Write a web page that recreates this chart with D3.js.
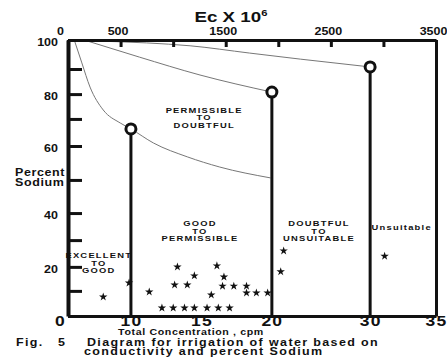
<!DOCTYPE html>
<html>
<head>
<meta charset="utf-8">
<script src="https://cdn.jsdelivr.net/npm/d3@7"></script>
<style>
  body { margin: 0; background: #fff; }
  svg { display: block; font-family: "Liberation Sans", Arial, sans-serif; font-weight: bold; }
  text { transform-box: fill-box; transform-origin: center; transform: scaleX(1.25); fill: #111; }
  .yax text { transform-origin: right center; }
  text.side, text.caption { transform-origin: left center; }
</style>
</head>
<body>
<script>
const W = 447, H = 357;
const margin = { top: 40, right: 11, bottom: 41, left: 68 };
const width = W - margin.left - margin.right;
const height = H - margin.top - margin.bottom;

// hand drawn axes: uneven spacing, so both are piecewise
const concDomain = [0, 10, 20, 30, 35];
const concStops = [0, 0.171, 0.554, 0.821, 1];
const sodiumDomain = [0, 10, 20, 30, 40, 50, 60, 70, 80, 90, 100];
const sodiumStops = [0, 0.091, 0.178, 0.275, 0.373, 0.493, 0.616, 0.714, 0.804, 0.895, 1];

const concTicks = [0, 10, 15, 20, 30, 35];
const sodiumTicks = [0, 10, 20, 30, 40, 50, 60, 70, 80, 90, 100];
const sodiumLabels = [20, 40, 60, 80, 100];
const ecTicks = [0, 500, 1000, 1500, 2000, 2500, 3000, 3500];
const ecLabels = [0, 500, 1500, 2500, 3500];

// class boundaries [conc, % sodium]
const limits = [[10, 66.3], [20, 80.8], [30, 90.7]];
const curveLow = [[1.1, 99.3], [2.2, 92.1], [3.5, 82.8], [5.6, 73.6], [8.3, 68.5], [10, 66.3],
  [11.6, 61.1], [14.0, 56.8], [16.3, 53.8], [19.9, 50.6]];
const curveMid = [[3.0, 99.7], [10.6, 94.1], [14.9, 87.6], [20, 80.8]];
const curveHigh = [[3.0, 99.7], [11.1, 99.0], [14.2, 98.0], [18.4, 95.5], [22.9, 93.4], [30, 90.7]];

// water samples [conc, % sodium]
const samples = [
  [5.6, 7.6], [9.7, 13.3], [11.3, 9.6], [13.3, 20], [13.1, 12.5], [14.0, 12.5],
  [14.5, 16.3], [16.1, 20.4], [16.6, 15.8], [16.5, 12], [17.3, 12], [18.2, 12],
  [15.7, 8.4], [18.2, 9.2], [18.9, 9.2], [19.7, 9.2],
  [12.2, 3.2], [13.0, 3.2], [13.8, 3.2], [14.5, 3.2], [15.4, 3.2], [16.2, 3.2], [17.0, 3.2],
  [21.2, 26], [20.9, 18], [31.1, 24]
];

const zoneNames = [
  ["PERMISSIBLE", "TO", "DOUBTFUL"],
  ["GOOD", "TO", "PERMISSIBLE"],
  ["DOUBTFUL", "TO", "UNSUITABLE"],
  ["EXCELLENT", "TO", "GOOD"],
  ["Unsuitable"]
];
// where each name sits, in chart units [conc, % sodium]
const zoneAt = [[15.2, 73.6], [14.9, 36.3], [24.8, 36.3], [4.9, 24.4], [32.4, 34.8]];

const x = d3.scaleLinear().domain(concDomain).range(concStops.map((f) => f * width));
const y = d3.scaleLinear().domain(sodiumDomain).range(sodiumStops.map((f) => height * (1 - f)));
const ec = d3.scaleLinear().domain([0, 3500]).range([0, width]);

const svg = d3.select("body").append("svg").attr("width", W).attr("height", H);
const g = svg.append("g").attr("transform", `translate(${margin.left},${margin.top})`);

// curves
const line = d3.line().x((d) => x(d[0])).y((d) => y(d[1])).curve(d3.curveMonotoneX);
g.selectAll("path.curve")
  .data([curveLow, curveMid, curveHigh])
  .join("path")
  .attr("class", "curve")
  .attr("d", line)
  .attr("fill", "none")
  .attr("stroke", "#777")
  .attr("stroke-width", 1);

// vertical class limits
g.selectAll("line.limit")
  .data(limits)
  .join("line")
  .attr("class", "limit")
  .attr("x1", (d) => x(d[0])).attr("x2", (d) => x(d[0]))
  .attr("y1", y(0)).attr("y2", (d) => y(d[1]))
  .attr("stroke", "#111")
  .attr("stroke-width", 3);
g.selectAll("circle.knot")
  .data(limits)
  .join("circle")
  .attr("class", "knot")
  .attr("cx", (d) => x(d[0]))
  .attr("cy", (d) => y(d[1]))
  .attr("r", 5)
  .attr("fill", "#fff")
  .attr("stroke", "#111")
  .attr("stroke-width", 3);

// axes
const leftAxis = d3.axisLeft(y).tickValues(sodiumTicks).tickSizeInner(-14).tickSizeOuter(0)
  .tickPadding(12).tickFormat((d) => (sodiumLabels.includes(d) ? d : ""));
const ly = g.append("g").attr("class", "yax").call(leftAxis);
ly.select(".domain").attr("stroke-width", 4).attr("stroke", "#111");
ly.selectAll(".tick line").attr("stroke-width", 3).attr("stroke", "#111");
ly.selectAll(".tick text").attr("font-size", 10).attr("dy", "0.55em").attr("x", -10);
ly.selectAll(".tick text").filter((d) => !sodiumLabels.includes(d)).remove();

const topAxis = d3.axisTop(ec).tickValues(ecTicks).tickSizeInner(-7).tickSizeOuter(0)
  .tickPadding(12).tickFormat((d) => (ecLabels.includes(d) ? d : ""));
const ty = g.append("g").call(topAxis);
ty.select(".domain").attr("stroke-width", 3).attr("stroke", "#111");
ty.selectAll(".tick line").attr("stroke-width", 3).attr("stroke", "#111");
ty.selectAll(".tick text").attr("font-size", 10).attr("dx", (d) => (d === 0 ? -8 : -3)).attr("y", -5);
ty.selectAll(".tick text").filter((d) => !ecLabels.includes(d)).remove();

const bottomAxis = d3.axisBottom(x).tickValues(concTicks).tickSize(0).tickPadding(0.5);
const by = g.append("g").attr("transform", `translate(0,${height})`).call(bottomAxis);
by.select(".domain").attr("stroke-width", 3).attr("stroke", "#111");
by.selectAll(".tick text").attr("font-size", 14).attr("letter-spacing", 1)
  .attr("dx", (d) => (d === 0 ? -8 : 0));

const ry = g.append("g").attr("transform", `translate(${width},0)`)
  .call(d3.axisRight(y).tickValues([]).tickSizeOuter(0));
ry.select(".domain").attr("stroke-width", 3).attr("stroke", "#111");

// samples
g.selectAll("path.sample")
  .data(samples)
  .join("path")
  .attr("class", "sample")
  .attr("transform", (d) => `translate(${x(d[0])},${y(d[1])})`)
  .attr("d", d3.symbol(d3.symbolStar, 22))
  .attr("fill", "#111");

// zone names
zoneNames.forEach((lines, i) => {
  const t = g.append("text")
    .attr("x", x(zoneAt[i][0]))
    .attr("y", y(zoneAt[i][1]) + 3)
    .attr("text-anchor", "middle")
    .attr("font-size", 7.5)
    .attr("letter-spacing", 1);
  lines.forEach((s, j) => {
    t.append("tspan").attr("x", x(zoneAt[i][0])).attr("dy", j ? 7.5 : 0).text(s);
  });
});

// titles
const title = svg.append("text")
  .attr("x", 231).attr("y", 22)
  .attr("text-anchor", "middle")
  .attr("font-size", 15);
title.append("tspan").text("Ec X 10");
title.append("tspan").attr("font-size", 9).attr("dy", -6).text("6");

svg.append("text").attr("class", "side").attr("x", 15).attr("y", 176).attr("font-size", 10)
  .attr("letter-spacing", 0.5).text("Percent");
svg.append("text").attr("class", "side").attr("x", 15).attr("y", 186).attr("font-size", 10)
  .attr("letter-spacing", 0.5).text("Sodium");

svg.append("text").attr("x", 191).attr("y", 335.5).attr("text-anchor", "middle")
  .attr("font-size", 8.5).attr("letter-spacing", 0.5).text("Total Concentration , cpm");

const caption = [
  { x: 16, y: 346, s: "Fig." },
  { x: 58, y: 346, s: "5" },
  { x: 87, y: 346, s: "Diagram for irrigation of water based on" },
  { x: 84, y: 355.5, s: "conductivity and percent Sodium" }
];
svg.selectAll("text.caption")
  .data(caption)
  .join("text")
  .attr("class", "caption")
  .attr("x", (d) => d.x)
  .attr("y", (d) => d.y)
  .attr("font-size", 10)
  .attr("letter-spacing", 1.1)
  .text((d) => d.s);
</script>
</body>
</html>
